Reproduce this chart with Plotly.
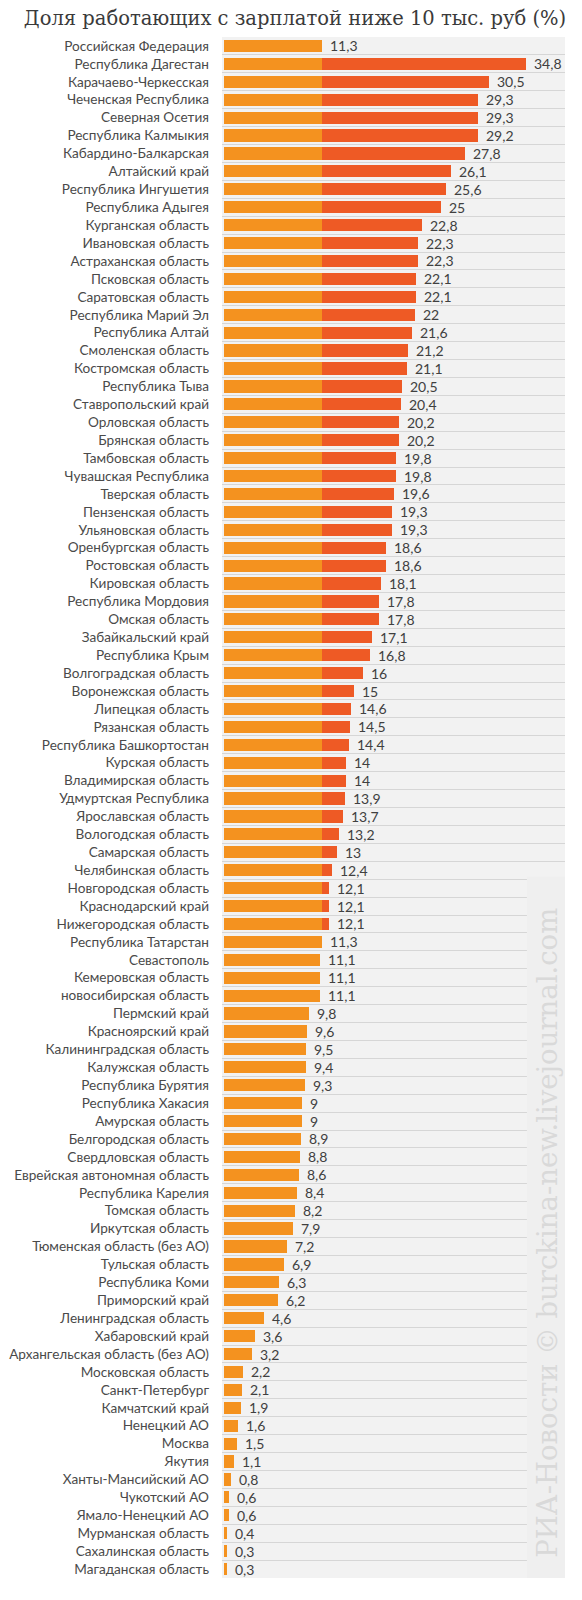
import plotly.graph_objects as go
import numpy as np

title_text = "Доля работающих с зарплатой ниже 10 тыс. руб (%)"
watermark_text = "РИА-Новости © burckina-new.livejournal.com"

regions = [
    "Российская Федерация", "Республика Дагестан", "Карачаево-Черкесская", "Чеченская Республика",
    "Северная Осетия", "Республика Калмыкия", "Кабардино-Балкарская", "Алтайский край",
    "Республика Ингушетия", "Республика Адыгея", "Курганская область", "Ивановская область",
    "Астраханская область", "Псковская область", "Саратовская область", "Республика Марий Эл",
    "Республика Алтай", "Смоленская область", "Костромская область", "Республика Тыва",
    "Ставропольский край", "Орловская область", "Брянская область", "Тамбовская область",
    "Чувашская Республика", "Тверская область", "Пензенская область", "Ульяновская область",
    "Оренбургская область", "Ростовская область", "Кировская область", "Республика Мордовия",
    "Омская область", "Забайкальский край", "Республика Крым", "Волгоградская область",
    "Воронежская область", "Липецкая область", "Рязанская область", "Республика Башкортостан",
    "Курская область", "Владимирская область", "Удмуртская Республика", "Ярославская область",
    "Вологодская область", "Самарская область", "Челябинская область", "Новгородская область",
    "Краснодарский край", "Нижегородская область", "Республика Татарстан", "Севастополь",
    "Кемеровская область", "новосибирская область", "Пермский край", "Красноярский край",
    "Калининградская область", "Калужская область", "Республика Бурятия", "Республика Хакасия",
    "Амурская область", "Белгородская область", "Свердловская область", "Еврейская автономная область",
    "Республика Карелия", "Томская область", "Иркутская область", "Тюменская область (без АО)",
    "Тульская область", "Республика Коми", "Приморский край", "Ленинградская область",
    "Хабаровский край", "Архангельская область (без АО)", "Московская область", "Санкт-Петербург",
    "Камчатский край", "Ненецкий АО", "Москва", "Якутия",
    "Ханты-Мансийский АО", "Чукотский АО", "Ямало-Ненецкий АО", "Мурманская область",
    "Сахалинская область", "Магаданская область",
]

values = [
    11.3, 34.8, 30.5, 29.3,
    29.3, 29.2, 27.8, 26.1,
    25.6, 25, 22.8, 22.3,
    22.3, 22.1, 22.1, 22,
    21.6, 21.2, 21.1, 20.5,
    20.4, 20.2, 20.2, 19.8,
    19.8, 19.6, 19.3, 19.3,
    18.6, 18.6, 18.1, 17.8,
    17.8, 17.1, 16.8, 16,
    15, 14.6, 14.5, 14.4,
    14, 14, 13.9, 13.7,
    13.2, 13, 12.4, 12.1,
    12.1, 12.1, 11.3, 11.1,
    11.1, 11.1, 9.8, 9.6,
    9.5, 9.4, 9.3, 9,
    9, 8.9, 8.8, 8.6,
    8.4, 8.2, 7.9, 7.2,
    6.9, 6.3, 6.2, 4.6,
    3.6, 3.2, 2.2, 2.1,
    1.9, 1.6, 1.5, 1.1,
    0.8, 0.6, 0.6, 0.4,
    0.3, 0.3,
]

national = values[0]  # Российская Федерация — split point
vals = np.array(values)
base_part = np.minimum(vals, national)
excess_part = np.maximum(vals - national, 0)
ypos = np.arange(len(regions))

ORANGE = "#F4921F"
RED = "#EE5A25"
TEXT = "#404040"
LABEL = "#4a4a4a"

fig = go.Figure()
fig.add_trace(go.Bar(y=ypos, x=base_part, orientation="h", marker=dict(color=ORANGE, line=dict(width=0)),
                     width=0.68, hoverinfo="skip"))
fig.add_trace(go.Bar(y=ypos, x=excess_part, orientation="h", marker=dict(color=RED, line=dict(width=0)),
                     width=0.68, hoverinfo="skip"))

for y, v in zip(ypos, values):
    fig.add_annotation(x=v, y=y, text=f"{v:g}".replace(".", ","), showarrow=False,
                       xanchor="left", yanchor="middle", xshift=6,
                       font=dict(family="Lato", size=14, color=TEXT))

# watermark band and text
fig.add_shape(type="rect", xref="paper", yref="paper", x0=0.889, x1=1.0, y0=0, y1=0.455,
              fillcolor="#efefef", line=dict(width=0), layer="above")
fig.add_annotation(xref="paper", yref="paper", x=0.945, y=0.012, text=watermark_text, textangle=-90,
                   showarrow=False, xanchor="center", yanchor="bottom",
                   font=dict(family="DejaVu Serif", size=27.5, color="#d9d9d9"))

fig.update_layout(
    width=574, height=1592,
    margin=dict(l=214, r=17, t=29, b=22, autoexpand=False),
    title=dict(text=title_text, xref="container", yref="container", x=0.5, xanchor="center",
               y=1 - 10 / 1592, yanchor="middle",
               font=dict(family="DejaVu Serif", size=19.5, color="#3a3a3a")),
    barmode="stack", showlegend=False,
    paper_bgcolor="white", plot_bgcolor="#f2f2f2",
    xaxis=dict(range=[-0.23, 39.27], showgrid=False, zeroline=False, showticklabels=False,
               fixedrange=True, automargin=False),
    yaxis=dict(range=[len(regions) - 0.5, -0.5], tickvals=ypos, ticktext=regions, automargin=False,
               showgrid=False, zeroline=False, ticks="", ticklabelstandoff=12,
               tickfont=dict(family="Lato", size=13.6, color=LABEL),
               minor=dict(tickvals=list(np.arange(len(regions) + 1) - 0.5), showgrid=True,
                          gridcolor="#d6d6d6", gridwidth=1)),
)
fig.write_html("out.html")
